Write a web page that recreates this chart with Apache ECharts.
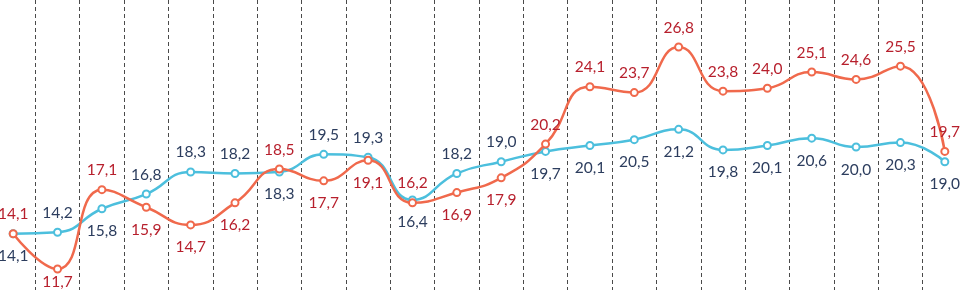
<!DOCTYPE html>
<html>
<head>
<meta charset="utf-8">
<script src="https://cdn.jsdelivr.net/npm/echarts@6/dist/echarts.min.js"></script>
<style>
html,body{margin:0;padding:0;background:#fff;overflow:hidden;}
#wrap{position:relative;width:960px;height:290px;overflow:hidden;}
#chart{position:absolute;left:-9px;top:0;width:976px;height:294px;}
</style>
</head>
<body>
<div id="wrap"><div id="chart"></div></div>
<script>
const categories = ['1','2','3','4','5','6','7','8','9','10','11','12','13','14','15','16','17','18','19','20','21','22'];
const blueValues = [14.1,14.2,15.8,16.8,18.3,18.2,18.3,19.5,19.3,16.4,18.2,19.0,19.7,20.1,20.5,21.2,19.8,20.1,20.6,20.0,20.3,19.0];
const redValues  = [14.1,11.7,17.1,15.9,14.7,16.2,18.5,17.7,19.1,16.2,16.9,17.9,20.2,24.1,23.7,26.8,23.8,24.0,25.1,24.6,25.5,19.7];

const RED_LINE = '#f0694c', RED_TEXT = '#b71f2c';
const BLUE_LINE = '#4cbfdd', BLUE_TEXT = '#2c3d5e';
const FONT = 'Lato';

function fmt(v){ return v.toFixed(1).replace('.', ','); }

// red label goes above when red is the higher series (index 9 is an exception in the source)
const redAbove = redValues.map((r, i) => i === 9 ? true : (r >= blueValues[i]));

function buildData(values, isRed){
  return values.map((v, i) => {
    const above = isRed ? redAbove[i] : !redAbove[i];
    let dist = above ? 7 : 10;
    if (isRed && i === 1) dist = 0;
    return { value: v, label: { position: above ? 'top' : 'bottom', distance: dist } };
  });
}

const chart = echarts.init(document.getElementById('chart'), null, {renderer:'canvas'});
chart.setOption({
  animation: false,
  backgroundColor: '#ffffff',
  grid: { left: 0, right: 0, top: 0, bottom: 0, containLabel: false },
  xAxis: {
    type: 'category',
    data: categories,
    boundaryGap: true,
    axisLine: { show: false },
    axisTick: { show: false },
    axisLabel: { show: false },
    splitLine: { show: true, lineStyle: { color: '#4a4a4a', width: 1, type: [4, 3] } }
  },
  yAxis: {
    type: 'value', min: 10, max: 30, show: false,
    splitLine: { show: false }
  },
  series: [
    {
      name: 'blue', type: 'line', smooth: 0.5, data: buildData(blueValues, false),
      symbol: 'emptyCircle', symbolSize: 7,
      lineStyle: { color: BLUE_LINE, width: 2.5 },
      itemStyle: { color: BLUE_LINE, borderWidth: 2 },
      label: { show: true, color: BLUE_TEXT, fontFamily: FONT, fontSize: 15.5, formatter: p => fmt(p.value) },
      z: 2
    },
    {
      name: 'red', type: 'line', smooth: 0.5, data: buildData(redValues, true),
      symbol: 'emptyCircle', symbolSize: 7,
      lineStyle: { color: RED_LINE, width: 2.5 },
      itemStyle: { color: RED_LINE, borderWidth: 2 },
      label: { show: true, color: RED_TEXT, fontFamily: FONT, fontSize: 15.5, formatter: p => fmt(p.value) },
      z: 3
    }
  ]
});
</script>
</body>
</html>
